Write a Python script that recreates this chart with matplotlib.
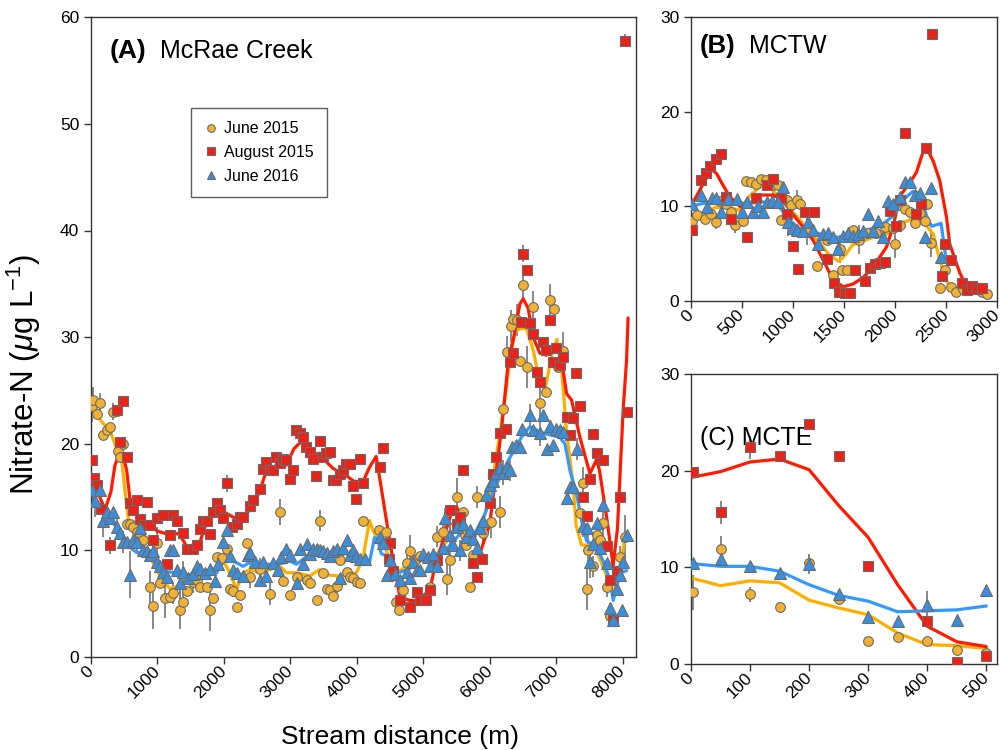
import numpy as np
import matplotlib
matplotlib.use('Agg')
import matplotlib.pyplot as plt
from matplotlib.lines import Line2D

plt.rcParams['font.family'] = ['Liberation Sans', 'DejaVu Sans']
plt.rcParams['mathtext.fontset'] = 'custom'
plt.rcParams['mathtext.rm'] = 'Liberation Sans'
plt.rcParams['mathtext.it'] = 'Liberation Sans:italic'

# ---- (A) McRae Creek : (distance m, nitrate, error) ----
jun15_A = [(10, 23.5, 1.5), (35, 24.1, 1.2), (86, 22.8, 0), (135, 23.8, 1.0), (185, 20.8, 0),
           (235, 21.3, 0), (286, 21.6, 0), (336, 23.0, 0.8), (386, 23.1, 0), (400, 19.3, 1.0),
           (440, 18.8, 0), (480, 20.0, 0), (537, 12.5, 0), (587, 12.5, 0), (637, 12.2, 0),
           (687, 11.7, 1.5), (737, 11.4, 0), (787, 11.0, 1.0), (888, 6.6, 1.5), (938, 4.8, 2.2),
           (988, 10.7, 1.5), (1038, 6.9, 0), (1113, 5.5, 1.8), (1188, 5.6, 0), (1238, 6.0, 1.0),
           (1338, 4.4, 1.8), (1388, 5.2, 1.0), (1440, 6.2, 0), (1540, 7.0, 1.0), (1590, 7.2, 0),
           (1640, 6.6, 0), (1740, 6.6, 0), (1790, 4.4, 2.0), (1840, 5.5, 0), (1890, 9.4, 0),
           (1965, 9.3, 0), (2040, 10.1, 0), (2090, 6.4, 0), (2140, 6.2, 0), (2190, 4.7, 0),
           (2240, 5.8, 0), (2342, 10.7, 0), (2391, 7.5, 1.0), (2541, 8.3, 1.0), (2692, 5.9, 1.0),
           (2843, 13.6, 1.2), (2893, 7.1, 0), (2993, 5.8, 0), (3093, 7.5, 0), (3244, 7.2, 0),
           (3294, 6.9, 0), (3394, 5.3, 0), (3444, 12.8, 1.0), (3494, 7.9, 0), (3544, 6.4, 0),
           (3590, 6.3, 0), (3645, 5.7, 0), (3695, 6.7, 1.0), (3745, 9.1, 0), (3845, 8.0, 0),
           (3895, 7.5, 0), (3945, 7.4, 0), (3995, 7.0, 0), (4045, 6.9, 0), (4095, 12.8, 0),
           (4340, 11.9, 0), (4440, 11.7, 0), (4590, 5.2, 0), (4640, 4.4, 0), (4690, 6.3, 0),
           (4747, 8.8, 1.0), (4797, 9.9, 1.5), (4872, 9.1, 0), (4950, 9.5, 0), (5098, 6.6, 0),
           (5198, 11.3, 1.0), (5298, 11.7, 1.0), (5349, 7.3, 1.5), (5399, 9.1, 1.5), (5499, 15.0, 1.8),
           (5549, 13.3, 0), (5599, 13.6, 0), (5620, 11.4, 1.0), (5649, 10.5, 0), (5699, 6.6, 0),
           (5749, 9.6, 0), (5800, 15.0, 1.0), (5900, 11.6, 1.0), (6025, 12.7, 1.5), (6150, 13.6, 1.5),
           (6200, 23.3, 0), (6252, 28.6, 1.5), (6312, 31.0, 1.5), (6352, 31.7, 0), (6412, 31.6, 1.5),
           (6452, 27.8, 0), (6502, 34.9, 1.2), (6552, 27.2, 2.0), (6652, 32.8, 1.5), (6752, 23.8, 1.5),
           (6852, 24.9, 0), (6903, 33.5, 1.5), (6963, 32.6, 0), (7028, 27.2, 0), (7103, 28.7, 1.8),
           (7356, 13.5, 0), (7406, 16.3, 1.5), (7456, 6.4, 2.0), (7481, 10.0, 1.5), (7556, 8.5, 1.0),
           (7606, 11.4, 1.5), (7656, 11.0, 1.2), (7706, 12.6, 1.5), (7757, 6.6, 1.0), (7807, 3.8, 0),
           (7957, 9.4, 1.0), (8032, 11.3, 2.0)]

aug15_A = [(10, 18.5, 0), (40, 16.8, 0), (85, 16.1, 0), (150, 13.9, 0), (286, 10.5, 0.8),
           (386, 23.2, 0), (436, 20.2, 0), (486, 24.0, 0), (537, 18.8, 0), (587, 14.4, 0),
           (637, 13.8, 0), (687, 14.7, 0), (737, 12.9, 0), (787, 12.4, 0), (837, 14.5, 0),
           (888, 12.4, 0), (938, 11.0, 0), (988, 13.0, 0), (1088, 13.3, 0), (1138, 8.7, 0),
           (1188, 11.4, 0), (1238, 13.3, 0), (1288, 12.8, 0), (1389, 11.6, 0), (1439, 10.1, 0),
           (1540, 10.1, 0), (1590, 10.5, 0), (1640, 12.0, 0), (1690, 12.8, 0), (1740, 12.8, 0),
           (1790, 11.5, 0), (1840, 13.6, 0), (1890, 14.4, 0), (1940, 13.8, 0), (1990, 13.0, 0),
           (2040, 16.3, 0.8), (2115, 12.2, 0), (2190, 12.5, 0), (2240, 13.1, 0), (2290, 13.1, 0),
           (2390, 14.2, 0), (2440, 14.7, 0), (2540, 15.8, 0), (2590, 17.6, 0), (2640, 18.3, 0),
           (2690, 17.5, 0), (2740, 17.5, 0), (2790, 18.8, 0), (2840, 18.2, 0), (2890, 18.6, 0),
           (2940, 18.5, 0), (2990, 16.7, 0), (3040, 17.5, 0), (3090, 21.3, 0), (3140, 21.0, 0),
           (3190, 20.6, 0), (3240, 19.7, 0), (3290, 19.2, 0), (3340, 18.6, 0), (3390, 17.0, 0),
           (3440, 20.3, 0), (3490, 18.8, 0), (3540, 19.1, 0), (3590, 19.2, 0), (3640, 16.6, 0),
           (3690, 16.6, 0), (3740, 17.2, 0), (3790, 17.5, 0), (3840, 18.1, 0), (3890, 18.1, 0),
           (3940, 16.0, 0), (3990, 14.8, 0), (4040, 18.6, 0), (4090, 16.3, 0), (4347, 17.8, 0),
           (4397, 19.6, 0), (4480, 9.2, 0), (4497, 10.7, 0), (4547, 8.1, 0), (4647, 5.3, 0),
           (4797, 4.7, 0), (4897, 6.1, 0), (4947, 5.3, 0), (5047, 5.3, 0), (5098, 6.3, 0),
           (5198, 9.1, 0), (5399, 13.8, 0), (5499, 12.5, 0), (5549, 13.1, 0), (5599, 17.5, 0),
           (5749, 8.8, 0), (5800, 7.5, 0), (5875, 9.2, 0), (6000, 14.4, 0), (6050, 17.2, 0),
           (6100, 18.8, 0), (6150, 21.0, 0), (6250, 21.4, 0), (6302, 27.7, 0), (6352, 28.5, 0),
           (6463, 31.4, 0), (6502, 37.8, 0.8), (6562, 36.3, 0), (6602, 31.3, 0), (6652, 30.3, 0),
           (6715, 26.7, 0), (6752, 25.8, 0), (6802, 29.5, 0), (6852, 28.8, 0), (6903, 31.6, 0),
           (6953, 27.7, 0), (7003, 29.0, 0), (7053, 27.4, 0), (7103, 28.1, 0), (7155, 22.5, 0),
           (7205, 20.8, 0), (7255, 22.4, 0), (7303, 26.6, 0), (7355, 23.5, 0), (7406, 15.0, 0),
           (7456, 13.2, 0), (7506, 16.7, 0), (7556, 20.9, 0), (7606, 19.1, 0), (7706, 18.5, 0),
           (7757, 10.4, 0), (7807, 7.2, 0), (7857, 3.5, 0), (7907, 8.1, 0), (7957, 15.0, 0),
           (8031, 57.8, 0.6), (8057, 23.0, 0)]

jun16_A = [(10, 15.7, 1.5), (60, 14.6, 1.5), (135, 15.7, 0), (185, 12.8, 1.5), (236, 13.6, 0),
           (286, 13.0, 0), (336, 13.6, 0), (386, 12.2, 1.0), (436, 11.6, 0), (486, 10.8, 1.0),
           (537, 10.8, 0), (587, 7.7, 2.2), (637, 11.0, 0), (687, 10.8, 1.0), (737, 12.1, 0),
           (787, 10.0, 0), (837, 9.9, 0), (888, 9.6, 0), (938, 9.9, 1.0), (988, 8.9, 0),
           (1038, 8.5, 0), (1088, 8.0, 0), (1138, 7.5, 0), (1188, 10.0, 0), (1238, 10.0, 0),
           (1288, 8.2, 0), (1338, 6.9, 1.0), (1388, 8.0, 1.0), (1464, 7.4, 0), (1540, 7.8, 0),
           (1590, 8.5, 0), (1640, 8.3, 0), (1715, 7.9, 0), (1790, 8.3, 0), (1865, 7.1, 0),
           (1915, 8.7, 0), (1990, 10.8, 0), (2040, 11.9, 0), (2090, 9.5, 0), (2140, 8.2, 0),
           (2190, 7.9, 0), (2290, 7.6, 0), (2365, 9.6, 0), (2390, 9.8, 1.2), (2465, 8.9, 0),
           (2540, 7.2, 0), (2590, 8.9, 0), (2640, 7.6, 0), (2740, 8.8, 0), (2815, 8.2, 0),
           (2865, 9.4, 0), (2940, 10.1, 0), (2993, 9.6, 0), (3094, 6.9, 0), (3143, 10.1, 0),
           (3193, 8.7, 0), (3243, 10.6, 0), (3293, 9.7, 0), (3344, 10.1, 0), (3394, 10.1, 0),
           (3444, 10.0, 0), (3494, 9.9, 0), (3544, 9.8, 0), (3594, 9.5, 0), (3644, 9.9, 0),
           (3694, 10.1, 0), (3744, 7.4, 0), (3794, 10.2, 0), (3844, 11.0, 0), (3894, 9.6, 0),
           (3944, 10.0, 0), (3994, 9.5, 0), (4044, 9.2, 0), (4119, 9.2, 0), (4344, 11.3, 0),
           (4394, 10.7, 0), (4447, 7.7, 0), (4497, 9.1, 0), (4572, 7.8, 0), (4647, 7.2, 0),
           (4747, 8.0, 0), (4797, 7.4, 0), (4847, 8.9, 0), (4897, 8.2, 0), (4947, 8.2, 0),
           (4997, 9.7, 0), (5073, 9.4, 0), (5098, 8.5, 0), (5148, 9.7, 0), (5198, 8.5, 0),
           (5298, 10.2, 0), (5324, 13.0, 1.0), (5399, 11.4, 1.0), (5449, 10.5, 0), (5499, 12.2, 0),
           (5549, 10.0, 1.0), (5599, 12.5, 0), (5649, 11.3, 0), (5699, 11.9, 0), (5749, 11.1, 0),
           (5800, 10.2, 0), (5850, 12.1, 0), (5900, 12.8, 0), (5950, 15.2, 0), (6000, 16.1, 0),
           (6050, 16.5, 0), (6100, 17.3, 1.0), (6150, 17.7, 0), (6202, 17.3, 1.2), (6252, 17.8, 0),
           (6302, 17.5, 1.0), (6330, 19.7, 0), (6400, 19.9, 0), (6450, 19.7, 0), (6490, 21.4, 0),
           (6602, 22.7, 1.0), (6652, 21.3, 0), (6752, 21.0, 1.2), (6803, 22.7, 0), (6853, 19.5, 0),
           (6903, 21.7, 0), (6953, 19.9, 0), (7003, 21.4, 0), (7053, 21.3, 0), (7103, 21.1, 0),
           (7155, 14.9, 0), (7205, 15.9, 0), (7255, 15.9, 0), (7305, 19.5, 1.0), (7406, 12.3, 1.0),
           (7456, 12.1, 0), (7506, 8.9, 1.5), (7556, 10.6, 0), (7606, 12.6, 0), (7656, 10.2, 0),
           (7706, 14.3, 0), (7757, 8.8, 0), (7807, 4.6, 0), (7857, 3.5, 0), (7907, 6.4, 0),
           (7957, 7.7, 0), (7990, 4.4, 0), (8007, 8.9, 0), (8057, 11.4, 0)]

# smoothed trend lines (A)
jun15_A_line = [(0, 23.5), (100, 22.5), (200, 21.8), (300, 21.0), (386, 19.5), (436, 19.8),
                (470, 18.0), (511, 15.5), (560, 13.0), (637, 12.2), (737, 11.1), (888, 9.4),
                (1038, 7.6), (1188, 6.4), (1338, 6.7), (1489, 7.3), (1640, 7.6), (1840, 7.9),
                (1940, 9.1), (2040, 8.5), (2190, 6.4), (2290, 7.9), (2390, 8.2), (2540, 7.9),
                (2690, 8.2), (2840, 8.5), (2940, 7.9), (3090, 7.9), (3290, 7.6), (3440, 8.2),
                (3540, 7.7), (3740, 7.6), (3890, 7.6), (4000, 8.0), (4090, 9.2), (4190, 12.8),
                (4240, 11.9), (4340, 10.7), (4397, 10.8), (4470, 9.5), (4572, 7.8), (4722, 8.4),
                (4972, 9.1), (5173, 9.4), (5374, 11.0), (5574, 13.1), (5650, 12.0), (5750, 11.3),
                (5900, 12.8), (6025, 15.9), (6125, 19.9), (6225, 24.1), (6300, 27.8), (6380, 30.5),
                (6452, 30.8), (6552, 30.8), (6652, 28.8), (6727, 26.5), (6830, 25.0), (6920, 28.0),
                (7010, 29.8), (7080, 27.0), (7150, 21.5), (7250, 16.3), (7300, 12.3), (7380, 10.5),
                (7500, 10.5), (7600, 10.0), (7700, 8.5), (7800, 7.0), (7857, 6.0), (7957, 7.9),
                (8032, 11.3)]
aug15_A_line = [(0, 17.0), (100, 15.5), (210, 13.8), (300, 15.5), (360, 18.0), (411, 18.8),
                (436, 19.5), (480, 19.0), (537, 17.5), (587, 14.7), (650, 13.5), (712, 13.1),
                (800, 12.8), (912, 12.2), (1000, 11.8), (1113, 11.6), (1200, 11.4), (1313, 11.6),
                (1400, 10.8), (1464, 10.0), (1564, 9.7), (1640, 10.8), (1715, 12.2), (1800, 13.0),
                (1915, 13.8), (2000, 13.6), (2115, 13.2), (2240, 12.8), (2350, 13.5), (2450, 14.3),
                (2540, 15.6), (2640, 17.5), (2800, 18.0), (2940, 18.0), (3050, 19.5), (3160, 20.2),
                (3250, 19.3), (3340, 19.0), (3440, 19.1), (3540, 18.3), (3640, 17.7), (3740, 17.3),
                (3840, 17.0), (3950, 16.5), (4090, 16.4), (4190, 17.8), (4290, 18.8), (4350, 16.5),
                (4440, 13.0), (4515, 10.1), (4590, 7.6), (4647, 5.6), (4800, 5.3), (4922, 5.3),
                (5098, 6.3), (5173, 8.5), (5300, 11.0), (5424, 13.6), (5499, 14.1), (5649, 11.9),
                (5775, 10.9), (5850, 9.7), (6000, 12.5), (6075, 16.3), (6175, 21.3), (6280, 27.8),
                (6360, 30.0), (6452, 33.1), (6502, 33.6), (6577, 32.7), (6652, 30.0), (6752, 28.5),
                (6852, 28.3), (6953, 29.0), (7053, 28.7), (7100, 27.0), (7155, 24.7), (7230, 24.1),
                (7356, 20.6), (7506, 17.2), (7606, 18.5), (7650, 17.5), (7760, 13.0), (7855, 8.6),
                (7920, 12.0), (8007, 23.3), (8057, 27.8), (8080, 31.8)]
jun16_A_line = [(0, 15.0), (135, 14.3), (286, 13.4), (386, 12.0), (537, 10.5), (687, 9.8),
                (837, 9.8), (988, 8.7), (1138, 8.0), (1288, 7.9), (1439, 7.6), (1590, 8.0),
                (1740, 8.0), (1890, 7.9), (1990, 9.0), (2140, 9.0), (2290, 8.5), (2440, 9.1),
                (2590, 8.7), (2740, 8.7), (2890, 8.8), (2990, 9.0), (3090, 8.7), (3240, 9.4),
                (3340, 10.0), (3490, 9.9), (3640, 9.7), (3790, 9.7), (3940, 9.6), (4090, 9.2),
                (4190, 8.9), (4265, 11.2), (4315, 11.0), (4365, 9.7), (4447, 9.5), (4497, 8.9),
                (4572, 7.8), (4772, 8.2), (4972, 9.1), (5173, 9.4), (5374, 10.3), (5574, 11.7),
                (5775, 11.6), (5926, 13.4), (6075, 15.9), (6275, 18.4), (6475, 20.6), (6602, 21.6),
                (6803, 21.0), (7053, 20.6), (7130, 20.0), (7205, 17.5), (7305, 15.3), (7380, 12.8),
                (7456, 10.9), (7606, 10.3), (7706, 9.0), (7807, 7.2), (7857, 5.3), (7957, 7.9),
                (8057, 8.1)]

# ---- (B) MCTW ----
jun15_B = [(7, 8.5, 0.8), (57, 9.1, 0), (137, 8.7, 0), (200, 9.2, 0), (241, 8.4, 0.8),
           (284, 10.6, 0), (343, 10.3, 0), (392, 9.4, 0), (435, 8.0, 0.8), (506, 8.5, 0),
           (539, 12.7, 0), (590, 12.6, 0), (637, 12.4, 0), (686, 12.9, 0), (735, 12.8, 0),
           (801, 12.3, 1.0), (850, 12.3, 0), (884, 8.6, 0), (937, 10.7, 0), (983, 10.2, 0),
           (1040, 10.7, 1.0), (1065, 10.3, 0), (1134, 7.4, 1.5), (1232, 3.7, 0), (1330, 6.4, 0),
           (1395, 2.7, 0), (1460, 5.5, 1.5), (1477, 3.3, 0), (1526, 3.3, 0), (1591, 7.5, 0),
           (1650, 6.5, 1.5), (1722, 7.2, 0), (1819, 7.2, 0), (1900, 7.8, 0), (1983, 7.7, 0),
           (2003, 6.0, 1.5), (2048, 8.0, 0), (2097, 9.7, 0), (2146, 9.4, 0), (2195, 8.2, 0),
           (2244, 9.3, 0), (2293, 8.5, 0), (2310, 10.3, 0), (2358, 6.1, 1.5), (2446, 1.4, 0),
           (2489, 3.3, 0), (2545, 1.5, 0), (2603, 1.0, 0), (2668, 1.3, 0), (2734, 1.5, 0.6),
           (2800, 1.4, 0), (2849, 1.0, 0), (2898, 0.7, 0)]
aug15_B = [(7, 7.5, 0), (94, 12.8, 0), (147, 13.5, 0), (190, 14.3, 0), (245, 15.0, 0),
           (297, 15.5, 0), (345, 11.0, 0), (395, 8.7, 0), (545, 6.8, 0), (640, 10.9, 0),
           (748, 12.3, 0), (800, 12.9, 0), (885, 10.9, 0), (940, 9.2, 0), (996, 5.8, 0),
           (1045, 3.4, 0), (1120, 9.4, 0), (1205, 9.4, 0), (1333, 4.4, 0), (1401, 1.9, 0),
           (1455, 0.9, 0), (1506, 0.8, 0), (1555, 0.8, 0), (1607, 3.3, 0), (1705, 2.1, 0),
           (1754, 3.5, 0), (1803, 3.9, 0), (1852, 4.0, 0), (1904, 4.1, 0), (1950, 9.5, 0),
           (2009, 7.9, 0), (2048, 10.7, 0), (2101, 17.8, 0), (2205, 9.2, 0), (2257, 10.3, 0),
           (2303, 16.2, 0), (2359, 28.2, 0), (2460, 2.6, 0), (2493, 6.0, 0), (2551, 4.3, 0),
           (2653, 1.9, 0), (2702, 1.2, 0), (2751, 1.6, 0), (2800, 1.3, 0), (2849, 1.4, 0)]
jun16_B = [(7, 10.3, 0), (96, 11.2, 0), (153, 9.9, 0), (202, 10.9, 0), (250, 10.9, 0),
           (299, 9.4, 0), (364, 10.8, 0), (447, 10.8, 0), (496, 9.4, 0), (545, 10.5, 0),
           (610, 9.4, 0), (659, 10.0, 0), (708, 9.4, 0), (741, 10.5, 0), (790, 10.6, 0),
           (856, 10.5, 0), (905, 12.1, 0), (954, 8.4, 1.5), (996, 7.7, 0), (1036, 7.5, 0),
           (1101, 7.4, 0), (1150, 8.4, 0), (1199, 7.5, 0), (1248, 6.0, 0), (1297, 7.1, 0),
           (1346, 7.2, 0), (1395, 6.8, 0), (1444, 5.5, 0), (1493, 6.9, 0), (1542, 7.2, 0),
           (1591, 6.9, 0), (1640, 7.1, 0), (1689, 7.4, 0), (1738, 9.2, 0), (1787, 7.4, 0),
           (1836, 8.5, 0), (1885, 6.8, 0), (1934, 10.6, 0), (1983, 10.3, 0), (2048, 11.0, 0),
           (2097, 12.6, 0), (2146, 12.6, 0), (2195, 11.2, 0), (2244, 11.4, 0), (2293, 6.8, 0),
           (2358, 11.9, 0), (2456, 4.7, 0)]

jun15_B_line = [(0, 8.5), (111, 9.3), (241, 9.9), (372, 9.9), (470, 9.6), (568, 11.0), (667, 12.0),
                (765, 12.2), (863, 10.9), (961, 9.8), (1059, 8.7), (1157, 7.3), (1254, 6.3),
                (1352, 4.9), (1450, 4.2), (1516, 4.9), (1581, 5.9), (1679, 6.3), (1777, 6.7),
                (1875, 6.9), (1983, 7.4), (2080, 8.3), (2178, 8.7), (2277, 8.3), (2375, 7.1),
                (2440, 4.3), (2505, 2.1), (2570, 1.4), (2700, 1.1), (2850, 1.0)]
aug15_B_line = [(0, 10.0), (100, 12.0), (200, 13.9), (250, 13.5), (300, 12.5), (382, 11.0),
                (480, 10.0), (578, 10.3), (680, 11.2), (807, 11.2), (905, 10.6), (1003, 9.1),
                (1101, 7.8), (1199, 6.4), (1264, 5.0), (1330, 3.6), (1395, 2.2), (1493, 1.5),
                (1591, 1.8), (1689, 2.5), (1787, 3.6), (1917, 5.7), (1983, 7.9), (2048, 11.1),
                (2146, 12.5), (2211, 13.6), (2277, 15.8), (2309, 16.2), (2375, 14.8), (2440, 12.7),
                (2505, 8.9), (2538, 6.0), (2635, 3.0), (2685, 1.9), (2800, 1.5), (2850, 1.3)]
jun16_B_line = [(0, 10.0), (111, 10.3), (250, 10.5), (400, 10.4), (550, 10.3), (700, 10.5),
                (863, 10.0), (961, 8.6), (1059, 7.7), (1199, 7.3), (1330, 6.9), (1460, 6.7),
                (1591, 7.0), (1722, 7.5), (1852, 7.9), (1983, 9.0), (2080, 10.7), (2178, 11.6),
                (2244, 11.4), (2310, 9.0), (2358, 7.9), (2453, 8.2), (2502, 4.3)]

# ---- (C) MCTE ----
jun15_C = [(4, 7.4, 1.8), (50, 11.9, 1.3), (100, 7.2, 0.8), (150, 5.9, 0), (200, 10.4, 1.0),
           (250, 6.7, 0.6), (300, 2.4, 0), (350, 2.8, 0), (400, 2.4, 0), (450, 1.4, 0), (500, 1.1, 0)]
aug15_C = [(4, 19.9, 0), (50, 15.7, 1.2), (100, 22.4, 1.2), (150, 21.5, 0), (200, 24.8, 0.5),
           (250, 21.5, 0), (300, 10.1, 0), (400, 4.4, 0), (450, 0.2, 0), (500, 0.8, 0)]
jun16_C = [(4, 10.4, 0), (50, 10.9, 0), (100, 10.1, 0), (150, 9.4, 0), (200, 10.3, 1.0),
           (250, 7.2, 0), (300, 4.9, 0.6), (350, 4.4, 0), (400, 6.1, 1.4), (450, 4.5, 0), (500, 7.7, 0.5)]

jun15_C_line = [(0, 8.9), (50, 8.1), (100, 8.6), (150, 8.4), (200, 6.6), (250, 5.8), (300, 5.1),
                (350, 3.2), (400, 2.0), (450, 1.9), (500, 1.6)]
aug15_C_line = [(0, 19.3), (50, 19.9), (100, 20.9), (150, 21.2), (200, 20.1), (250, 16.4),
                (300, 13.1), (350, 8.2), (400, 3.9), (450, 2.3), (500, 1.8)]
jun16_C_line = [(0, 10.4), (50, 10.1), (100, 10.1), (150, 9.6), (200, 8.2), (250, 7.1), (300, 6.5),
                (350, 5.4), (400, 5.5), (450, 5.6), (500, 6.0)]

series_names = ['June 2015', 'August 2015', 'June 2016']
markers = ['o', 's', '^']
fills = ['#F2B130', '#E8231A', '#3A8EDB']
line_colors = ['#FFAE00', '#FF1A00', '#3399FF']
msizes = [7, 6.5, 8]


def draw_panel(ax, pts_list, line_list):
    for k, pts in enumerate(pts_list):
        x = [p[0] for p in pts]
        y = [p[1] for p in pts]
        e = [p[2] for p in pts]
        ax.errorbar(x, y, yerr=e, fmt='none', ecolor='#7f7f7f', elinewidth=1.3, zorder=1)
    for k, ln in enumerate(line_list):
        ax.plot([p[0] for p in ln], [p[1] for p in ln], color=line_colors[k], lw=2.3,
                zorder=2, solid_capstyle='round')
    for k, pts in enumerate(pts_list):
        ax.plot([p[0] for p in pts], [p[1] for p in pts], linestyle='none', marker=markers[k],
                ms=msizes[k], mfc=fills[k], mec='#6b6b6b', mew=0.8, zorder=3 + k)
    for s in ax.spines.values():
        s.set_color('#333333')
        s.set_linewidth(1.0)
    ax.tick_params(direction='out', length=5, width=1, labelsize=12.5, color='#333333')


fig = plt.figure(figsize=(10.08, 7.5), dpi=100)
axA = fig.add_axes([0.0903, 0.124, 0.5407, 0.853])
axB = fig.add_axes([0.6855, 0.5987, 0.3035, 0.3783])
axC = fig.add_axes([0.6855, 0.1147, 0.3035, 0.3866])

axA.set_xlim(0, 8200)
axA.set_ylim(0, 60)
axA.set_xticks(np.arange(0, 8001, 1000))
axA.set_yticks(np.arange(0, 61, 10))
draw_panel(axA, [jun15_A, aug15_A, jun16_A], [jun15_A_line, aug15_A_line, jun16_A_line])

axB.set_xlim(0, 3000)
axB.set_ylim(0, 30)
axB.set_xticks(np.arange(0, 3001, 500))
axB.set_yticks([0, 10, 20, 30])
draw_panel(axB, [jun15_B, aug15_B, jun16_B], [jun15_B_line, aug15_B_line, jun16_B_line])

axC.set_xlim(0, 518)
axC.set_ylim(0, 30)
axC.set_xticks(np.arange(0, 501, 100))
axC.set_yticks([0, 10, 20, 30])
draw_panel(axC, [jun15_C, aug15_C, jun16_C], [jun15_C_line, aug15_C_line, jun16_C_line])

for lab in axA.get_xticklabels() + axB.get_xticklabels() + axC.get_xticklabels():
    lab.set_rotation(45)
    lab.set_ha('right')
    lab.set_va('center')
    lab.set_rotation_mode('anchor')
    lab.set_fontsize(12.5)

axA.set_ylabel(r'Nitrate-N ($\mu$g L$^{-1}$)', fontsize=22.5)
axA.yaxis.set_label_coords(-0.088, 0.442)
axA.set_xlabel('Stream distance (m)', fontsize=19)
axA.xaxis.set_label_coords(0.567, -0.106)

axA.text(0.035, 0.947, '(A)', transform=axA.transAxes, fontsize=19, fontweight='bold', va='center')
axA.text(0.127, 0.947, 'McRae Creek', transform=axA.transAxes, fontsize=18, va='center')
axB.text(0.03, 0.9, '(B)', transform=axB.transAxes, fontsize=18.5, fontweight='bold', va='center')
axB.text(0.19, 0.9, 'MCTW', transform=axB.transAxes, fontsize=18, va='center')
axC.text(0.03, 0.78, '(C) MCTE', transform=axC.transAxes, fontsize=18, va='center')

handles = [Line2D([], [], linestyle='none', marker=markers[k], ms=5.5,
                  mfc=fills[k], mec='#6b6b6b', mew=0.8) for k in range(3)]
leg = axA.legend(handles, series_names, loc='upper left', bbox_to_anchor=(0.168, 0.87),
                 fontsize=11.5, frameon=True, fancybox=False, edgecolor='#333333',
                 handletextpad=0.3, borderpad=0.8, labelspacing=0.55, handlelength=1.0)
leg.get_frame().set_linewidth(1.0)

fig.savefig('out.png', dpi=100)
